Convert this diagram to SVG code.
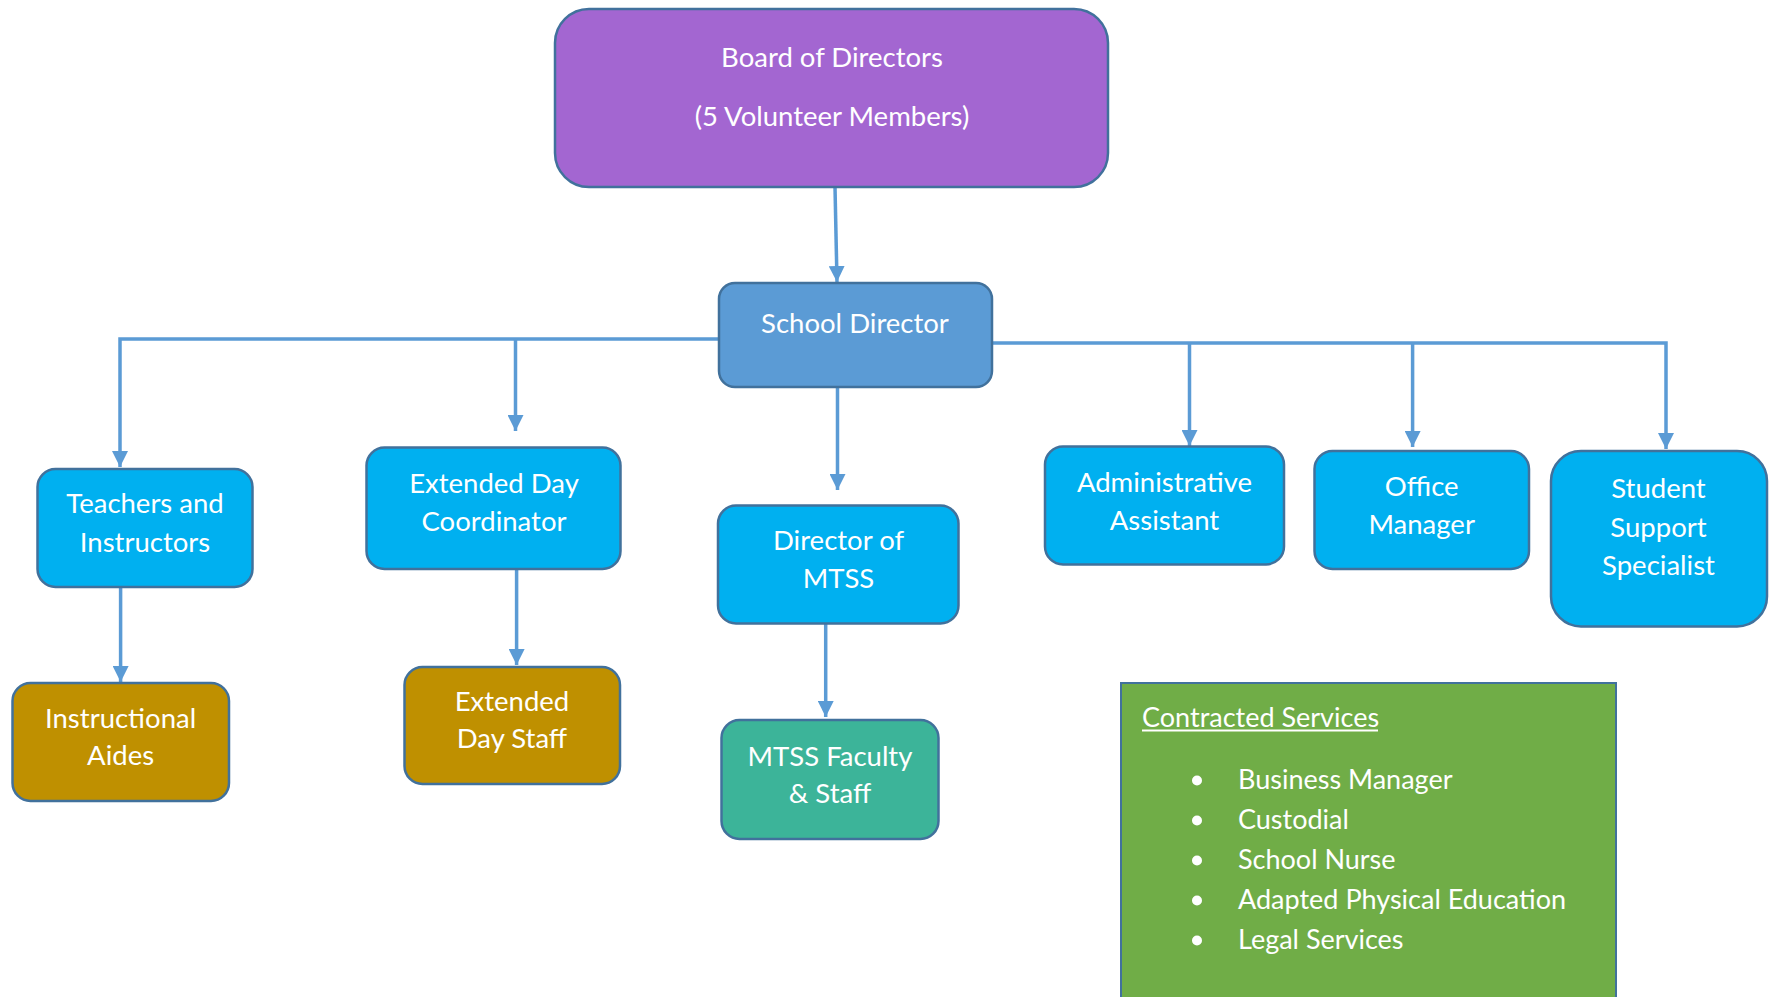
<svg xmlns="http://www.w3.org/2000/svg" width="1773" height="997" viewBox="0 0 1773 997">
<style>
.box{stroke:#41719C;stroke-width:2.5}
.blue{fill:#00B0F0}
.gold{fill:#BF9000}
.t{font-family:Lato,"Open Sans",sans-serif;font-size:27.5px;fill:#FFFFFF;text-anchor:middle}
.l{font-family:Lato,"Open Sans",sans-serif;font-size:27px;fill:#FFFFFF}
.c{fill:none;stroke:#5B9BD5;stroke-width:3.5}
</style>
<defs>
<marker id="ah" markerUnits="userSpaceOnUse" markerWidth="16" markerHeight="16" viewBox="0 0 16 16" refX="16" refY="8" orient="auto">
<path d="M0,0 L16,8 L0,16 z" fill="#5B9BD5"/>
</marker>
</defs>
<rect width="1773" height="997" fill="#FFFFFF"/>
<g id="connectors">
<path class="c" d="M835,187 L837,282" marker-end="url(#ah)"/>
<path class="c" d="M719,339 L120,339 L120,467" marker-end="url(#ah)"/>
<path class="c" d="M515.5,339 L515.5,431" marker-end="url(#ah)"/>
<path class="c" d="M120.6,587 L120.6,682" marker-end="url(#ah)"/>
<path class="c" d="M516.6,569 L516.6,665" marker-end="url(#ah)"/>
<path class="c" d="M837.5,387 L837.5,490" marker-end="url(#ah)"/>
<path class="c" d="M825.7,624 L825.7,717" marker-end="url(#ah)"/>
<path class="c" d="M992,343 L1666,343 L1666,449" marker-end="url(#ah)"/>
<path class="c" d="M1189.5,343 L1189.5,446" marker-end="url(#ah)"/>
<path class="c" d="M1412.6,343 L1412.6,447" marker-end="url(#ah)"/>
</g>
<g id="board">
<rect class="box" x="555" y="9" width="553" height="178" rx="34" fill="#A366D1"/>
<text class="t" x="832" y="66.5">Board of Directors</text>
<text class="t" x="832" y="126">(5 Volunteer Members)</text>
</g>
<g id="school-director">
<rect class="box" x="719" y="283" width="273" height="104" rx="16" fill="#5B9BD5"/>
<text class="t" x="855" y="333">School Director</text>
</g>
<g id="teachers">
<rect class="box blue" x="37.5" y="469" width="215" height="118" rx="18"/>
<text class="t" x="145" y="513">Teachers and</text>
<text class="t" x="145" y="551.5">Instructors</text>
</g>
<g id="instructional-aides">
<rect class="box gold" x="12.5" y="683" width="216.5" height="118" rx="18"/>
<text class="t" x="120.6" y="728">Instructional</text>
<text class="t" x="120.6" y="765">Aides</text>
</g>
<g id="extended-day-coordinator">
<rect class="box blue" x="366.5" y="447.5" width="254" height="121.5" rx="18"/>
<text class="t" x="494" y="493">Extended Day</text>
<text class="t" x="494" y="530.5">Coordinator</text>
</g>
<g id="extended-day-staff">
<rect class="box gold" x="404.5" y="667" width="215.5" height="117" rx="18"/>
<text class="t" x="512" y="710.5">Extended</text>
<text class="t" x="512" y="748">Day Staff</text>
</g>
<g id="director-mtss">
<rect class="box blue" x="718" y="505.5" width="240.5" height="118" rx="18"/>
<text class="t" x="838.5" y="549.5">Director of</text>
<text class="t" x="838.5" y="588">MTSS</text>
</g>
<g id="mtss-faculty">
<rect class="box" x="721.5" y="720" width="217" height="119" rx="18" fill="#3CB499"/>
<text class="t" x="830" y="766">MTSS Faculty</text>
<text class="t" x="830" y="803">&amp; Staff</text>
</g>
<g id="administrative-assistant">
<rect class="box blue" x="1045" y="446.5" width="239" height="118" rx="18"/>
<text class="t" x="1164.5" y="491.5">Administrative</text>
<text class="t" x="1164.5" y="529.5">Assistant</text>
</g>
<g id="office-manager">
<rect class="box blue" x="1314.5" y="451" width="214.5" height="118" rx="18"/>
<text class="t" x="1421.7" y="495.5">Office</text>
<text class="t" x="1421.7" y="533.5">Manager</text>
</g>
<g id="student-support">
<rect class="box blue" x="1551" y="451" width="216" height="175.5" rx="30"/>
<text class="t" x="1658.5" y="497.5">Student</text>
<text class="t" x="1658.5" y="536.5">Support</text>
<text class="t" x="1658.5" y="575">Specialist</text>
</g>
<g id="contracted-services">
<rect x="1121" y="683" width="495" height="330" fill="#70AD47" stroke="#41719C" stroke-width="2"/>
<text class="l" x="1142" y="726.5">Contracted Services</text>
<line x1="1142" y1="730.5" x2="1378" y2="730.5" stroke="#FFFFFF" stroke-width="1.8"/>
<circle cx="1197" cy="780.5" r="5" fill="#FFFFFF"/>
<circle cx="1197" cy="820.5" r="5" fill="#FFFFFF"/>
<circle cx="1197" cy="860.5" r="5" fill="#FFFFFF"/>
<circle cx="1197" cy="900.5" r="5" fill="#FFFFFF"/>
<circle cx="1197" cy="940.5" r="5" fill="#FFFFFF"/>
<text class="l" x="1238" y="788.5">Business Manager</text>
<text class="l" x="1238" y="828.5">Custodial</text>
<text class="l" x="1238" y="868.5">School Nurse</text>
<text class="l" x="1238" y="908.5">Adapted Physical Education</text>
<text class="l" x="1238" y="948.5">Legal Services</text>
</g>
</svg>
